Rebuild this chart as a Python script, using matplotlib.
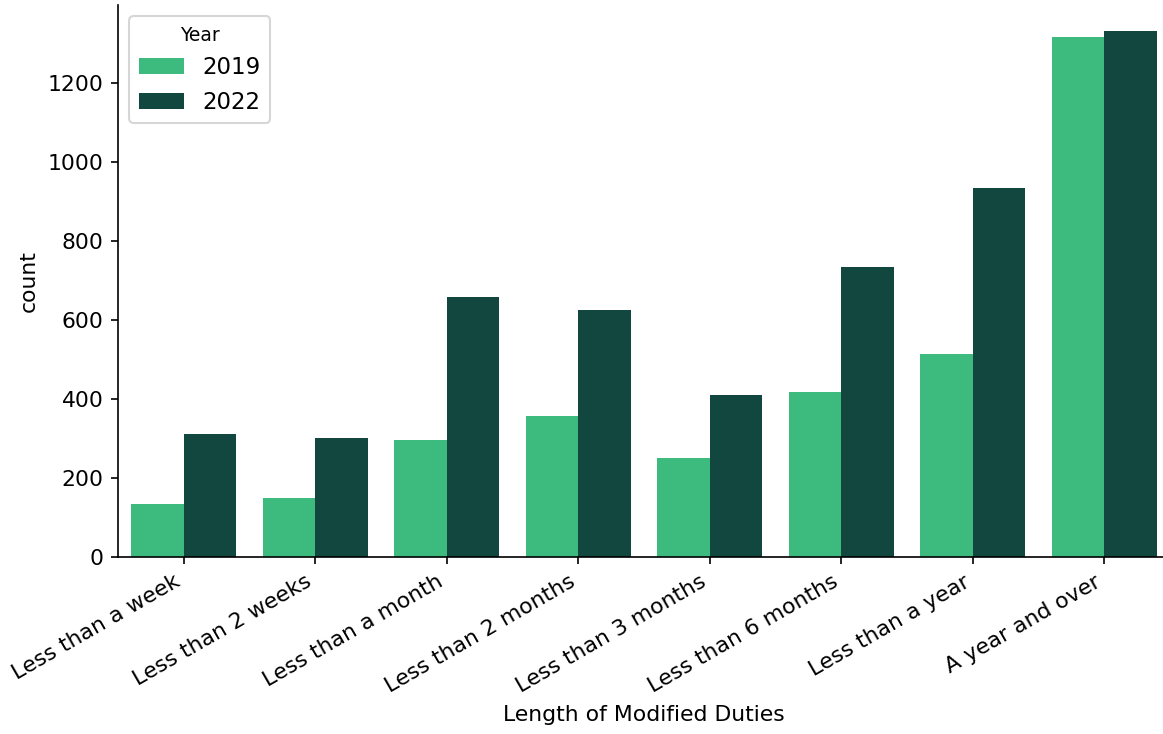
import matplotlib
matplotlib.use("Agg")
import matplotlib.pyplot as plt
import numpy as np

plt.rcParams["font.size"] = 10.5

# duration categories (x axis)
categories = [
    "Less than a week",
    "Less than 2 weeks",
    "Less than a month",
    "Less than 2 months",
    "Less than 3 months",
    "Less than 6 months",
    "Less than a year",
    "A year and over",
]
years = ["2019", "2022"]

# counts
counts_2019 = [134, 150, 296, 357, 250, 418, 514, 1316]
counts_2022 = [312, 302, 657, 624, 410, 733, 935, 1330]

colors = ["#3dbb7e", "#11473f"]

fig = plt.figure(figsize=(1163 / 150, 734 / 150), dpi=150)
ax = fig.add_axes([118 / 1163, 1 - 557 / 734, 1052 / 1163, 552 / 734])

x = np.arange(len(categories))
width = 0.4
ax.bar(x - width / 2, counts_2019, width, color=colors[0], label=years[0])
ax.bar(x + width / 2, counts_2022, width, color=colors[1], label=years[1])

ax.set_xlim(-0.5, len(categories) - 0.5)
ax.set_ylim(0, 1397)
ax.set_xticks(x)
ax.set_xticklabels(categories, rotation=30, ha="right")
ax.set_xlabel("Length of Modified Duties")
ax.set_ylabel("count")

# title sits just above the canvas in the original, only a sliver shows
ax.set_title("Length of Modified Duties by Year", fontweight="bold", fontsize=12)

ax.spines["top"].set_visible(False)
ax.spines["right"].set_visible(False)

ax.legend(title="Year", loc="upper left", fontsize=11, title_fontsize=9,
          bbox_to_anchor=(0.0, 1.0))

fig.savefig("out.png", dpi=150)
